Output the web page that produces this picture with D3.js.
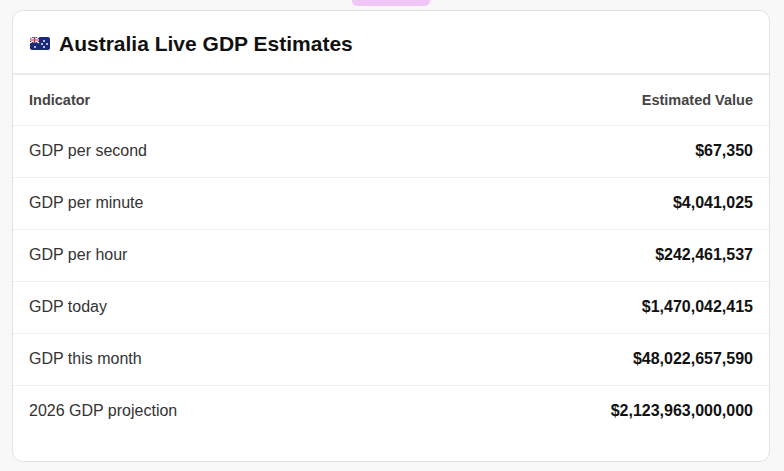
<!DOCTYPE html><html><head><meta charset="utf-8"><script src="https://cdn.jsdelivr.net/npm/d3@7"></script>
<style>body{margin:0;background:#f8f8f8;font-family:"Liberation Sans",Arial,sans-serif}</style></head><body><svg id="c" width="784" height="471"></svg>
<script>
const title="Australia Live GDP Estimates";
const headers=["Indicator","Estimated Value"];
const indicators=["GDP per second","GDP per minute","GDP per hour","GDP today","GDP this month","2026 GDP projection"];
const values=[67350,4041025,242461537,1470042415,48022657590,2123963000000];
const svg=d3.select("#c");
svg.append("rect").attr("x",352).attr("y",-6).attr("width",78).attr("height",12).attr("rx",5).attr("fill","#f0c6f7");
svg.append("rect").attr("x",12.5).attr("y",10.5).attr("width",757).attr("height",451).attr("rx",10).attr("fill","#fff").attr("stroke","#e2e2e2");
const f=svg.append("g").attr("transform","translate(30,37)");
f.append("rect").attr("width",20).attr("height",13).attr("rx",2).attr("fill","#1a2a7a");
f.append("path").attr("d","M0,0L9,6M9,0L0,6").attr("stroke","#fff").attr("stroke-width",1.5);
f.append("path").attr("d","M4.5,0V6M0,3H9").attr("stroke","#fff").attr("stroke-width",2);
f.append("path").attr("d","M4.5,0V6M0,3H9").attr("stroke","#d22").attr("stroke-width",1);
[[5,10],[14,4],[17,7],[14,10],[12,7]].forEach(p=>f.append("circle").attr("cx",p[0]).attr("cy",p[1]).attr("r",0.9).attr("fill","#fff"));
svg.append("text").attr("x",59).attr("y",51).attr("font-size",21).attr("font-weight","bold").attr("fill","#111").text(title);
svg.append("line").attr("x1",13).attr("x2",769).attr("y1",74).attr("y2",74).attr("stroke","#e4e4e4").attr("stroke-width",1.5);
svg.append("text").attr("x",29).attr("y",105).attr("font-size",14.5).attr("font-weight","bold").attr("fill","#444").text(headers[0]);
svg.append("text").attr("x",753).attr("y",105).attr("text-anchor","end").attr("font-size",14.5).attr("font-weight","bold").attr("fill","#444").text(headers[1]);
const fmt=d3.format("$,.0f");
indicators.forEach((d,i)=>{
  const top=125+i*52;
  svg.append("line").attr("x1",13).attr("x2",769).attr("y1",top+0.5).attr("y2",top+0.5).attr("stroke","#efefef");
  svg.append("text").attr("x",29).attr("y",top+31).attr("font-size",16).attr("fill","#333").text(d);
  svg.append("text").attr("x",753).attr("y",top+31).attr("text-anchor","end").attr("font-size",16).attr("font-weight","bold").attr("fill","#111").text(fmt(values[i]));
});
</script></body></html>
